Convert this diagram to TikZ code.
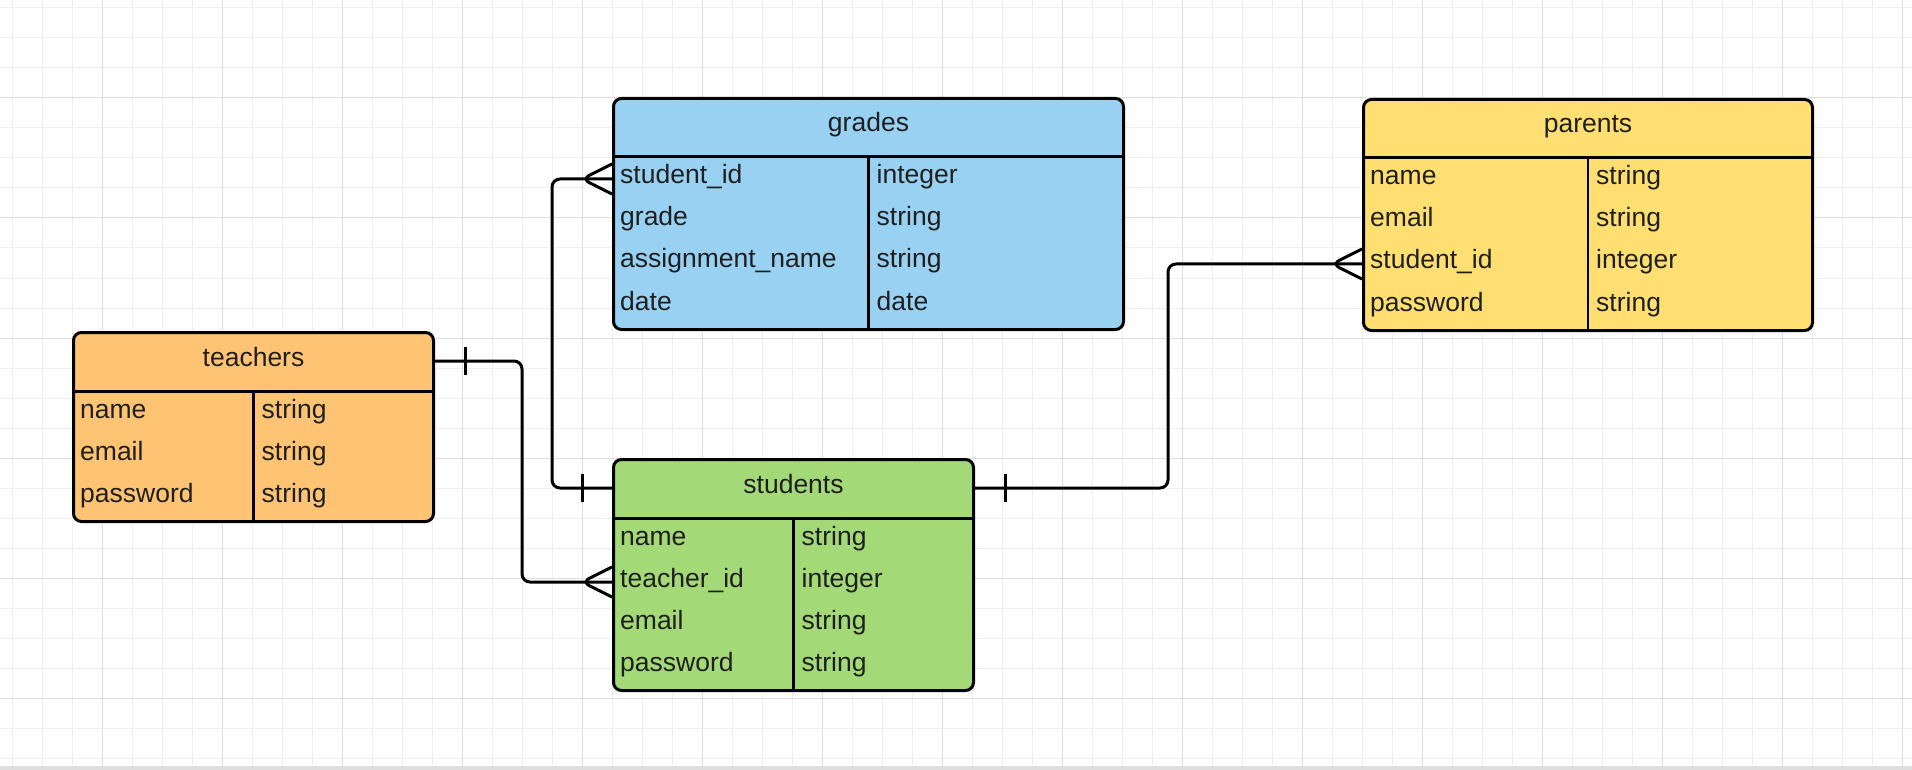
\documentclass[tikz,border=0pt]{standalone}
\usepackage{fontspec}
\setmainfont{Liberation Sans}

\definecolor{teachorange}{HTML}{FFC374}
\definecolor{gradeblue}{HTML}{99D1F2}
\definecolor{parentyellow}{HTML}{FFDF71}
\definecolor{studentgreen}{HTML}{A3D977}
\definecolor{gridminor}{HTML}{EFEFEF}
\definecolor{gridmajor}{HTML}{DEDEDE}

\begin{document}
\begin{tikzpicture}[x=1pt,y=-1pt,
		every node/.style={inner sep=0pt, font=\fontsize{26.5}{30}\selectfont, text=black!88},
		erbox/.style={draw=black, line width=3pt, rounded corners=8pt, anchor=north west, minimum width=#1},
		rule/.style={draw=black, line width=3pt},
		divider/.style={draw=black, line width=2.5pt},
		title/.style={text height=16pt, text depth=6pt},
		rowtext/.style={anchor=west, text height=16pt, text depth=6pt},
		link/.style={draw=black, line width=3pt, rounded corners=8pt, line join=round}]
		\useasboundingbox (0,0) rectangle (1912,770);
		\fill[white] (0,0) rectangle (1912,770);
		% grid
		\foreach \x in {12,42,...,1902} \draw[gridminor, line width=1pt] (\x,0) -- (\x,766);
		\foreach \y in {8,38,...,758} \draw[gridminor, line width=1pt] (0,\y) -- (1912,\y);
		\foreach \x in {102,222,...,1902} \draw[gridmajor, line width=1pt] (\x,0) -- (\x,766);
		\foreach \y in {98,218,...,758} \draw[gridmajor, line width=1pt] (0,\y) -- (1912,\y);
		\fill[gridmajor] (0,766) rectangle (1912,770);

		% teachers
		\node[erbox=360, minimum height=189, fill=teachorange] (teachers) at (72,331) {};
		\draw[rule] ([yshift=-60pt]teachers.north west) -- ([yshift=-60pt]teachers.north east);
		\draw[divider] ([yshift=-60pt]teachers.north) -- (teachers.south);
		\node[title] (teachers-h) at ([yshift=-30pt]teachers.north) {teachers};
		\foreach \f/\t [count=\i from 0] in {name/string, email/string, password/string} {
			\pgfmathsetmacro\dy{82+42*\i}
			\node[rowtext] (teachers-r\i) at ([xshift=8pt, yshift=-\dy pt]teachers.north west) {\f};
			\node[rowtext] at ([xshift=8pt, yshift=-\dy pt]teachers.north) {\t};
		}

		% grades
		\node[erbox=510, minimum height=231, fill=gradeblue] (grades) at (612,97) {};
		\draw[rule] ([yshift=-60pt]grades.north west) -- ([yshift=-60pt]grades.north east);
		\draw[divider] ([yshift=-60pt]grades.north) -- (grades.south);
		\node[title] (grades-h) at ([yshift=-30pt]grades.north) {grades};
		\foreach \f/\t [count=\i from 0] in {student\_id/integer, grade/string, assignment\_name/string, date/date} {
			\pgfmathsetmacro\dy{82+42*\i}
			\node[rowtext] (grades-r\i) at ([xshift=8pt, yshift=-\dy pt]grades.north west) {\f};
			\node[rowtext] at ([xshift=8pt, yshift=-\dy pt]grades.north) {\t};
		}

		% parents
		\node[erbox=449, minimum height=231, fill=parentyellow] (parents) at (1362,98) {};
		\draw[rule] ([yshift=-60pt]parents.north west) -- ([yshift=-60pt]parents.north east);
		\draw[divider] ([yshift=-60pt]parents.north) -- (parents.south);
		\node[title] (parents-h) at ([yshift=-30pt]parents.north) {parents};
		\foreach \f/\t [count=\i from 0] in {name/string, email/string, student\_id/integer, password/string} {
			\pgfmathsetmacro\dy{82+42*\i}
			\node[rowtext] (parents-r\i) at ([xshift=8pt, yshift=-\dy pt]parents.north west) {\f};
			\node[rowtext] at ([xshift=8pt, yshift=-\dy pt]parents.north) {\t};
		}

		% students
		\node[erbox=360, minimum height=231, fill=studentgreen] (students) at (612,458) {};
		\draw[rule] ([yshift=-60pt]students.north west) -- ([yshift=-60pt]students.north east);
		\draw[divider] ([yshift=-60pt]students.north) -- (students.south);
		\node[title] (students-h) at ([yshift=-30pt]students.north) {students};
		\foreach \f/\t [count=\i from 0] in {name/string, teacher\_id/integer, email/string, password/string} {
			\pgfmathsetmacro\dy{82+42*\i}
			\node[rowtext] (students-r\i) at ([xshift=8pt, yshift=-\dy pt]students.north west) {\f};
			\node[rowtext] at ([xshift=8pt, yshift=-\dy pt]students.north) {\t};
		}

		% teachers -- students
		\draw[link] (teachers.east |- teachers-h) -| ([xshift=-90pt]students.west |- students-r1) -- (students.west |- students-r1);
		\draw[link] (teachers.east |- teachers-h) ++(30,-14) -- ++(0,28);
		\draw[link] (students.west |- students-r1) ++(0,-15) -- ++(-30,15) -- ++(30,15);
		% students -- grades
		\draw[link] (students.west |- students-h) -| ([xshift=-60pt]grades.west |- grades-r0) -- (grades.west |- grades-r0);
		\draw[link] (students.west |- students-h) ++(-30,-14) -- ++(0,28);
		\draw[link] (grades.west |- grades-r0) ++(0,-15) -- ++(-30,15) -- ++(30,15);
		% students -- parents
		\draw[link] (students.east |- students-h) -| ([xshift=-194pt]parents.west |- parents-r2) -- (parents.west |- parents-r2);
		\draw[link] (students.east |- students-h) ++(30,-14) -- ++(0,28);
		\draw[link] (parents.west |- parents-r2) ++(0,-15) -- ++(-30,15) -- ++(30,15);
	\end{tikzpicture}
\end{document}
